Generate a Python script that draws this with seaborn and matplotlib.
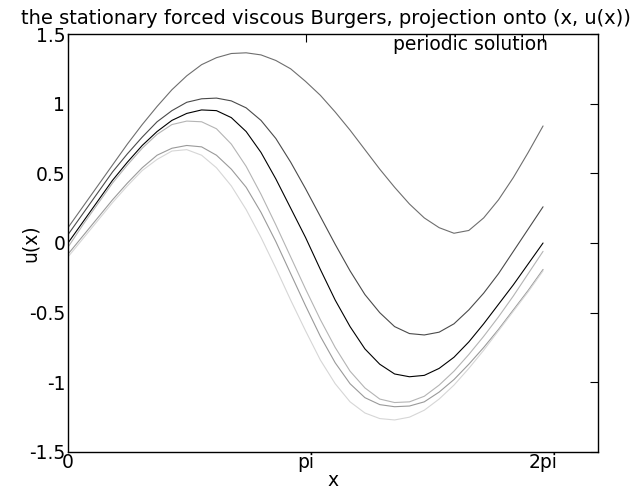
import numpy as np
import pandas as pd
import matplotlib
matplotlib.use("Agg")
import matplotlib.pyplot as plt
import seaborn as sns

# sample positions (multiples of pi/16)
x_vals = [k * np.pi / 16 for k in range(33)]

curve_a = [0.11, 0.26, 0.41, 0.56, 0.71, 0.85, 0.98, 1.10, 1.20, 1.28, 1.33, 1.36, 1.365, 1.35, 1.31, 1.25, 1.16,
           1.06, 0.94, 0.81, 0.67, 0.53, 0.40, 0.28, 0.18, 0.11, 0.07, 0.09, 0.18, 0.31, 0.47, 0.65, 0.84]
curve_b = [0.06, 0.21, 0.36, 0.51, 0.64, 0.76, 0.87, 0.95, 1.01, 1.035, 1.04, 1.02, 0.97, 0.88, 0.75, 0.58, 0.39,
           0.19, -0.01, -0.20, -0.37, -0.50, -0.60, -0.65, -0.66, -0.64, -0.58, -0.48, -0.36, -0.22, -0.06, 0.10, 0.26]
curve_c = [0.00, 0.15, 0.30, 0.45, 0.58, 0.70, 0.80, 0.88, 0.93, 0.955, 0.95, 0.90, 0.80, 0.65, 0.46, 0.25, 0.04,
           -0.19, -0.41, -0.60, -0.76, -0.87, -0.94, -0.96, -0.95, -0.90, -0.82, -0.71, -0.58, -0.44, -0.30, -0.15, 0.00]
curve_d = [-0.03, 0.13, 0.28, 0.43, 0.56, 0.68, 0.78, 0.85, 0.875, 0.87, 0.82, 0.71, 0.55, 0.35, 0.13, -0.10, -0.33,
           -0.55, -0.75, -0.92, -1.04, -1.12, -1.145, -1.14, -1.10, -1.02, -0.92, -0.80, -0.67, -0.53, -0.38, -0.22, -0.06]
curve_e = [-0.08, 0.05, 0.18, 0.31, 0.43, 0.54, 0.63, 0.68, 0.70, 0.69, 0.63, 0.53, 0.40, 0.22, 0.01, -0.22, -0.45,
           -0.67, -0.86, -1.01, -1.11, -1.16, -1.175, -1.17, -1.14, -1.07, -0.98, -0.87, -0.75, -0.62, -0.48, -0.34, -0.19]
curve_f = [-0.10, 0.03, 0.16, 0.29, 0.41, 0.52, 0.60, 0.66, 0.67, 0.63, 0.54, 0.41, 0.24, 0.04, -0.18, -0.41, -0.63,
           -0.84, -1.01, -1.14, -1.22, -1.26, -1.27, -1.25, -1.20, -1.12, -1.02, -0.90, -0.77, -0.63, -0.49, -0.35, -0.20]

series_names = ["a", "b", "c", "d", "e", "f"]
series_values = [curve_a, curve_b, curve_c, curve_d, curve_e, curve_f]
series_colors = ["#6e6e6e", "#4a4a4a", "#000000", "#b4b4b4", "#9a9a9a", "#d6d6d6"]

x_ticks = [0, np.pi, 2 * np.pi]
x_tick_labels = ["0", "pi", "2pi"]
y_ticks = [-1.5, -1, -0.5, 0, 0.5, 1, 1.5]
y_tick_labels = ["-1.5", "-1", "-0.5", "0", "0.5", "1", "1.5"]

title = "the stationary forced viscous Burgers, projection onto (x, u(x))"
key_label = "periodic solution"

df = pd.concat(
    [pd.DataFrame({"x": x_vals, "u": v, "curve": n}) for n, v in zip(series_names, series_values)],
    ignore_index=True,
)

sns.set_theme(style="white")
plt.rcParams["font.family"] = ["DejaVu Sans"]
plt.rcParams["text.color"] = "black"
plt.rcParams["axes.labelcolor"] = "black"

fig = plt.figure(figsize=(6.38, 4.91), dpi=100)
ax = fig.add_axes([68 / 638, 1 - 452 / 491, 530 / 638, 418 / 491])

sns.lineplot(data=df, x="x", y="u", hue="curve", palette=dict(zip(series_names, series_colors)),
             linewidth=0.8, legend=False, ax=ax, sort=False, estimator=None)

ax.set_xlim(0, 7.01)
ax.set_ylim(-1.5, 1.5)
ax.set_xticks(x_ticks)
ax.set_xticklabels(x_tick_labels)
ax.set_yticks(y_ticks)
ax.set_yticklabels(y_tick_labels)
ax.tick_params(direction="in", length=6, width=0.8, top=True, right=True,
               labelsize=13.5, colors="black", labelcolor="black", pad=2)
ax.tick_params(axis="x", pad=1)
for s in ax.spines.values():
    s.set_color("black")
    s.set_linewidth(1.0)
    s.set_visible(True)

ax.set_xlabel("x", fontsize=13.5, color="black", va="center")
ax.xaxis.set_label_coords(0.5, -(481 - 452) / 418)
ax.set_ylabel("u(x)", fontsize=13.5, color="black", va="center")
ax.yaxis.set_label_coords(-(68 - 30) / 530, 0.5)
fig.text(326 / 638, 1 - 18 / 491, title, ha="center", va="center", fontsize=14, color="black")
ax.text((548 - 68) / 530, (452 - 45) / 418, key_label, transform=ax.transAxes,
        ha="right", va="center", fontsize=13.5, color="black")

fig.savefig("out.png", dpi=100)
